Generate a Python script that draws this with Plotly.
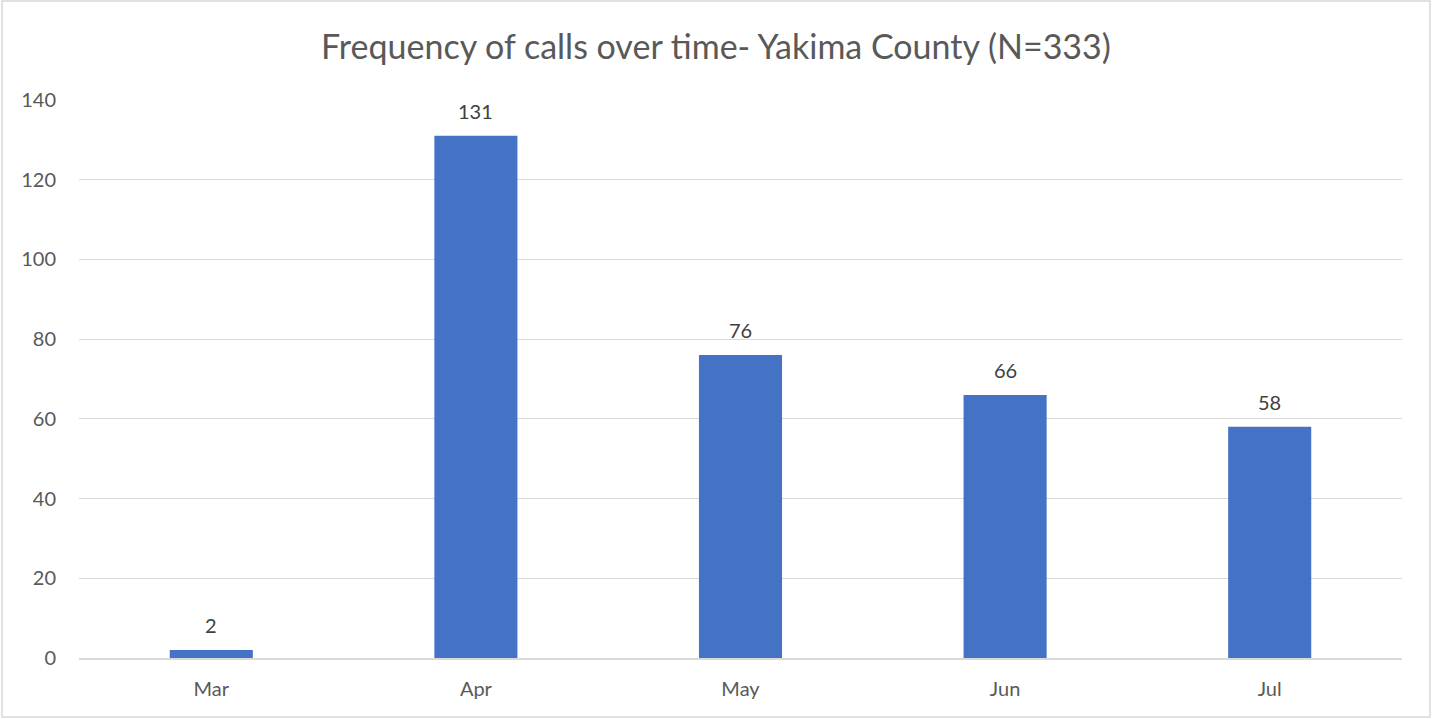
import plotly.graph_objects as go

months = ["Mar", "Apr", "May", "Jun", "Jul"]
calls = [2, 131, 76, 66, 58]
y_ticks = [0, 20, 40, 60, 80, 100, 120, 140]

W, H = 1432, 719
L, R, T, B = 79, 30, 100, 61
pw, ph = W - L - R, H - T - B

fig = go.Figure(go.Bar(
    x=months, y=calls, marker_color="#4472C4", marker_line_width=0,
    hoverinfo="x+y",
))

for m, v in zip(months, calls):
    fig.add_annotation(x=m, y=v, text=str(v), showarrow=False,
                       yanchor="middle", yshift=25,
                       font=dict(size=20, color="#404040"))

fig.update_layout(
    width=W, height=H,
    margin=dict(l=L, r=R, t=T, b=B),
    paper_bgcolor="white", plot_bgcolor="white",
    font=dict(family="Lato, 'Open Sans', sans-serif", color="#595959", size=20),
    title=dict(text="Frequency of calls over time- Yakima County (N=333)",
               x=0.5, xanchor="center", y=1 - 47 / H, yanchor="middle",
               font=dict(size=34, color="#595959")),
    bargap=0.686,
    showlegend=False,
    xaxis=dict(showgrid=False, showline=True, linecolor="#d9d9d9", linewidth=1.5,
               ticks="", tickfont=dict(size=20, color="#595959"), ticklabelstandoff=12),
    yaxis=dict(range=[0, 140], tickvals=y_ticks, showgrid=True, gridcolor="#d9d9d9",
               gridwidth=1.2, zeroline=False, showline=False, ticks="",
               tickfont=dict(size=20, color="#595959"), ticklabelstandoff=22),
    shapes=[dict(type="rect", xref="paper", yref="paper",
                 x0=(2 - L) / pw, x1=(W - 2 - L) / pw,
                 y0=(T + ph - (H - 2)) / ph, y1=(T + ph - 1) / ph,
                 line=dict(color="#d9d9d9", width=1.5), fillcolor="rgba(0,0,0,0)")],
)

fig.write_html("out.html", config={"displayModeBar": False},
               post_script="document.body.style.margin='0';document.body.style.overflow='hidden';")
